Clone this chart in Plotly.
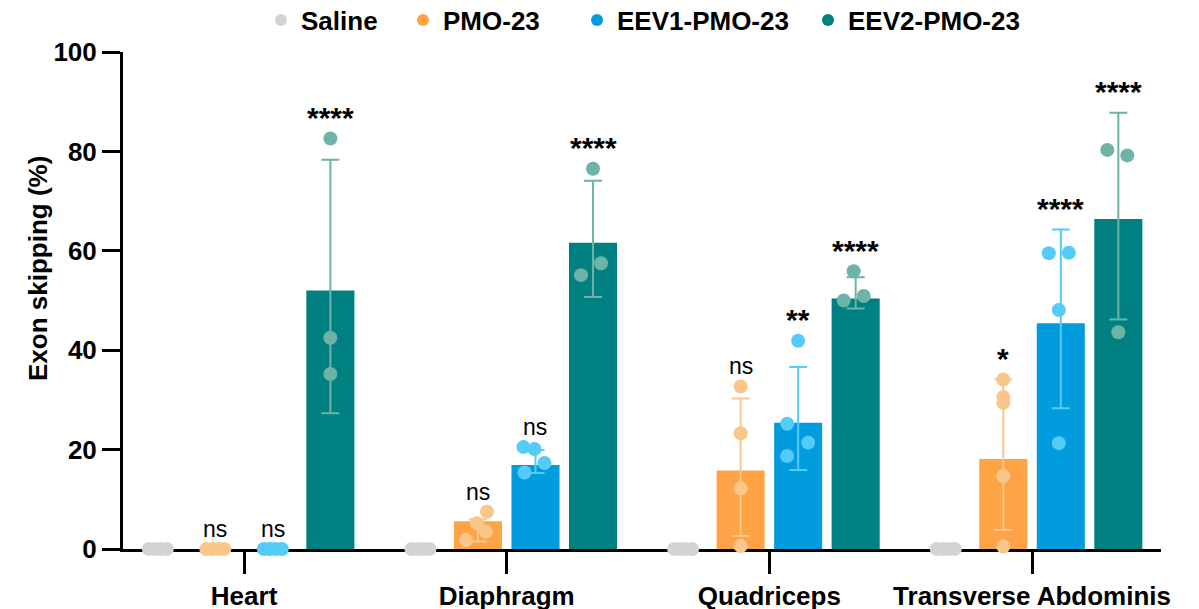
import plotly.graph_objects as go

# ---- data -------------------------------------------------------------
tissues = ["Heart", "Diaphragm", "Quadriceps", "Transverse Abdominis"]
groups = ["Saline", "PMO-23", "EEV1-PMO-23", "EEV2-PMO-23"]

# bar heights (mean exon skipping, %)
saline_mean = [0, 0, 0, 0]
pmo_mean = [0, 5.6, 15.8, 18.1]
eev1_mean = [0, 16.9, 25.4, 45.4]
eev2_mean = [52.0, 61.6, 50.4, 66.4]

# error bar extents above / below the mean
saline_err_up = [0, 0, 0, 0]
saline_err_lo = [0, 0, 0, 0]
pmo_err_up = [0, 0.4, 14.5, 16.0]
pmo_err_lo = [0, 4.1, 13.2, 14.3]
eev1_err_up = [0, 3.0, 11.2, 18.9]
eev1_err_lo = [0, 1.6, 9.5, 17.1]
eev2_err_up = [26.3, 12.5, 4.3, 21.4]
eev2_err_lo = [24.7, 10.9, 2.0, 20.2]

# individual animals
saline_pts = [[0, 0, 0, 0], [0, 0, 0, 0], [0, 0, 0, 0], [0, 0, 0, 0]]
pmo_pts = [[0, 0, 0, 0], [7.5, 5.2, 3.5, 1.8], [32.7, 23.3, 12.2, 0.6],
           [34.1, 30.6, 29.4, 14.7, 0.5]]
eev1_pts = [[0, 0, 0, 0], [20.5, 20.1, 17.3, 15.4], [41.9, 25.2, 21.4, 18.7],
            [59.5, 59.6, 48.1, 21.3]]
eev2_pts = [[82.6, 42.5, 35.2], [76.5, 57.5, 55.1], [55.9, 50.9, 50.0],
            [80.3, 79.2, 43.6]]

# significance vs saline
saline_sig = ["", "", "", ""]
pmo_sig = ["ns", "ns", "ns", "*"]
eev1_sig = ["ns", "ns", "**", "****"]
eev2_sig = ["****", "****", "****", "****"]

# ---- styling ----------------------------------------------------------
# horizontal spread (px) of overlapping dots inside each bar
saline_jit = [[-9, -3, 3, 9]] * 4
pmo_jit = [[-9, -3, 3, 9], [9, -1, 8, -12], [0, 0, 0, 0], [0, 0, 0, 0, 0]]
eev1_jit = [[-9, -3, 3, 9], [-12, -1, 9, -11], [0, -11, 10, -11], [-12, 8, -2, -2]]
eev2_jit = [[0, 0, 0], [0, 8, -12], [-2, 8, -12], [-11, 9, 0]]

bar_colors = ["#D3D3D3", "#FFA446", "#009CDE", "#008080"]
dot_colors = ["#D4D4D4", "#FAC68A", "#55CBF8", "#6DB3A7"]

FONT = "Liberation Sans, Arial, sans-serif"
X_RANGE = [-0.461, 3.491]
PLOT_W = 1038
PLOT_H = 497
PX_PER_X = PLOT_W / (X_RANGE[1] - X_RANGE[0])
STEP = 0.219      # distance between neighbouring bars, category units
BAR_W = 0.183
slot = [-1.5, -0.5, 0.5, 1.5]

series = [
    (saline_mean, saline_err_up, saline_err_lo, saline_pts, saline_jit, saline_sig),
    (pmo_mean, pmo_err_up, pmo_err_lo, pmo_pts, pmo_jit, pmo_sig),
    (eev1_mean, eev1_err_up, eev1_err_lo, eev1_pts, eev1_jit, eev1_sig),
    (eev2_mean, eev2_err_up, eev2_err_lo, eev2_pts, eev2_jit, eev2_sig),
]

fig = go.Figure()
annotations = []

for gi, (means, up, lo, pts, jit, sig) in enumerate(series):
    xs = [ti + slot[gi] * STEP for ti in range(len(tissues))]
    fig.add_trace(go.Bar(
        x=xs, y=means, width=BAR_W, marker=dict(color=bar_colors[gi], line_width=0),
        showlegend=False, hoverinfo="skip"))

for gi, (means, up, lo, pts, jit, sig) in enumerate(series):
    xs = [ti + slot[gi] * STEP for ti in range(len(tissues))]
    keep = [i for i, m in enumerate(means) if m > 0]
    if keep:
        fig.add_trace(go.Scatter(
            x=[xs[i] for i in keep], y=[means[i] for i in keep], mode="markers",
            marker=dict(size=1, opacity=0),
            error_y=dict(type="data", symmetric=False,
                         array=[up[i] for i in keep], arrayminus=[lo[i] for i in keep],
                         color=dot_colors[gi], thickness=2, width=9),
            showlegend=False, hoverinfo="skip", cliponaxis=False))

for gi, (means, up, lo, pts, jit, sig) in enumerate(series):
    px_, py_ = [], []
    for ti in range(len(tissues)):
        cx = ti + slot[gi] * STEP
        for v, dx in zip(pts[ti], jit[ti]):
            px_.append(cx + dx / PX_PER_X)
            py_.append(v)
        if sig[ti]:
            top = max(max(pts[ti]), means[ti] + up[ti])
            star = sig[ti].startswith("*")
            annotations.append(dict(
                x=cx, y=top, xref="x", yref="y", text=sig[ti], showarrow=False,
                xanchor="center", yanchor="middle",
                yshift=21 if star else 20,
                font=dict(family=FONT, size=30 if star else 23, color="black",
                          weight="bold" if star else "normal")))
    fig.add_trace(go.Scatter(
        x=px_, y=py_, mode="markers",
        marker=dict(size=14, color=dot_colors[gi], line_width=0),
        showlegend=False, hoverinfo="skip", cliponaxis=False))

# legend entries, each in its own legend box so spacing can be set freely
legend_x = [261, 403, 577, 808]
legend_names = ["legend", "legend2", "legend3", "legend4"]
for gi, name in enumerate(groups):
    fig.add_trace(go.Scatter(
        x=[None], y=[None], mode="markers", name=name,
        marker=dict(size=12, color=bar_colors[gi]),
        legend=legend_names[gi], showlegend=True))

legend_cfg = {}
for gi, ln in enumerate(legend_names):
    legend_cfg[ln] = dict(
        xref="container", yref="container", x=legend_x[gi] / 1199, y=(609 - 20) / 609,
        xanchor="left", yanchor="middle", orientation="h", bgcolor="rgba(0,0,0,0)",
        borderwidth=0, valign="top",
        font=dict(family=FONT, size=26, color="black", weight="bold"))

annotations.append(dict(
    text="Exon skipping (%)", xref="paper", yref="paper",
    x=(38 - 123) / PLOT_W, y=(549 - 269) / PLOT_H, textangle=-90,
    showarrow=False, xanchor="center", yanchor="middle",
    font=dict(family=FONT, size=26, color="black", weight="bold")))

fig.update_layout(
    width=1199, height=609,
    margin=dict(l=123, r=38, t=52, b=60, pad=0, autoexpand=False),
    paper_bgcolor="white", plot_bgcolor="white",
    barmode="overlay",
    annotations=annotations,
    xaxis=dict(
        range=X_RANGE, showgrid=False, zeroline=False,
        showline=True, linewidth=3, linecolor="black",
        ticks="outside", ticklen=22, tickwidth=3, tickcolor="black",
        tickvals=list(range(len(tissues))), ticktext=tissues,
        tickfont=dict(family=FONT, size=26, color="black", weight="bold"),
        automargin=False, layer="below traces"),
    yaxis=dict(
        range=[0, 100], showgrid=False, zeroline=False,
        showline=True, linewidth=3, linecolor="black",
        ticks="outside", ticklen=18, tickwidth=3, tickcolor="black",
        tickvals=[0, 20, 40, 60, 80, 100],
        tickfont=dict(family=FONT, size=26, color="black", weight="bold"),
        automargin=False, layer="below traces"),
    **legend_cfg,
)

fig.write_html("out.html")
